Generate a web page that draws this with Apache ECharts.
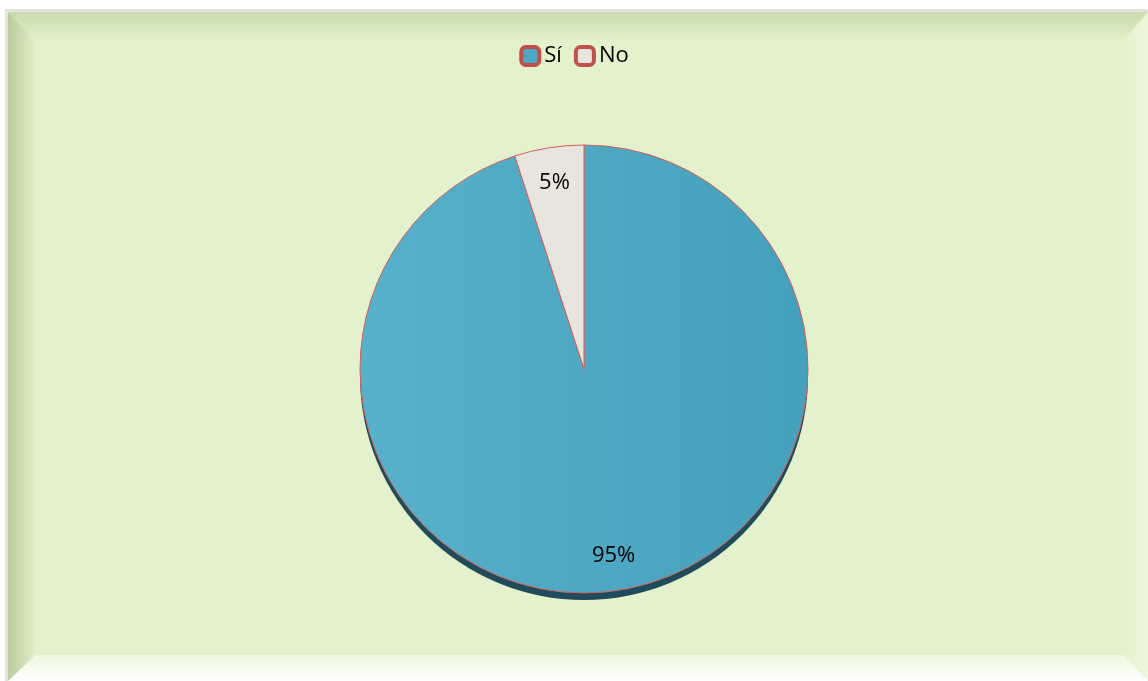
<!DOCTYPE html>
<html>
<head>
<meta charset="utf-8">
<script src="https://cdn.jsdelivr.net/npm/echarts@6/dist/echarts.min.js"></script>
<style>
html,body{margin:0;padding:0;background:#ffffff;}
#c{width:1148px;height:681px;}
</style>
</head>
<body>
<div id="c"></div>
<script>
const categories = ['Sí', 'No'];
const values = [95, 5];
const colors = ['#4DA7C2', '#E8E5DE'];

const chart = echarts.init(document.getElementById('c'));
const total = values.reduce((a, b) => a + b, 0);
const data = categories.map((n, i) => ({
  name: n,
  value: values[i],
  itemStyle: i === 0 ? {
    color: new echarts.graphic.LinearGradient(0, 0, 1, 0, [
      {offset: 0, color: '#58B1CA'},
      {offset: 1, color: '#45A0BC'}
    ])
  } : {color: colors[i]}
}));
const labelData = categories.map((n, i) => ({name: n, value: values[i]}));

const W = 1148, H = 681, L = 8, T = 12, B = 24;
const CX = 584, CY = 369, R = 224;
chart.setOption({
  animation: false,
  color: colors,
  graphic: [
    {type: 'rect', z: -10, silent: true, shape: {x: 5, y: 9, width: W, height: H}, style: {fill: '#E4E4DE'}},
    {type: 'rect', z: -9, silent: true, shape: {x: L, y: T, width: W - L, height: H - T}, style: {fill: '#E3F2CC'}},
    {type: 'polygon', z: -8, silent: true, shape: {points: [[L, T], [W, T], [W - B, T + B + 4], [L + B + 4, T + B + 4]]},
      style: {fill: new echarts.graphic.LinearGradient(0, 0, 0, 1, [{offset: 0, color: '#C8DBAE'}, {offset: 1, color: '#E0F0C8'}])}},
    {type: 'polygon', z: -8, silent: true, shape: {points: [[L, T], [L + B + 4, T + B + 4], [L + B + 4, H - B - 2], [L, H]]},
      style: {fill: new echarts.graphic.LinearGradient(0, 0, 1, 0, [{offset: 0, color: '#B9CC9F'}, {offset: 1, color: '#E1F0C9'}])}},
    {type: 'polygon', z: -8, silent: true, shape: {points: [[L, H], [L + B + 4, H - B - 2], [W - B, H - B - 2], [W, H]]},
      style: {fill: new echarts.graphic.LinearGradient(0, 0, 0, 1, [{offset: 0, color: '#EEF8DE'}, {offset: 1, color: '#FFFFFF'}])}},
    {type: 'polygon', z: -8, silent: true, shape: {points: [[W, T], [W - B, T + B + 4], [W - B, H - B - 2], [W, H]]},
      style: {fill: new echarts.graphic.LinearGradient(0, 0, 1, 0, [{offset: 0, color: '#E3F2CC'}, {offset: 1, color: '#EDF7DC'}])}}
  ],
  legend: {
    top: 40,
    left: 'center',
    itemWidth: 18,
    itemHeight: 18,
    itemGap: 12,
    icon: 'roundRect',
    textStyle: {fontFamily: 'Open Sans', fontSize: 22, color: '#000'},
    data: categories.map((n, i) => ({
      name: n,
      itemStyle: {color: colors[i], borderColor: '#C0504D', borderWidth: 4}
    }))
  },
  series: [
    {
      type: 'pie',
      center: [CX, CY + 7],
      radius: R,
      silent: true,
      legendHoverLink: false,
      label: {show: false},
      labelLine: {show: false},
      itemStyle: {color: '#1F4B5A', borderWidth: 0},
      emphasis: {disabled: true},
      data: [{name: '_shadow', value: total}]
    },
    {
      type: 'pie',
      center: [CX, CY],
      radius: R,
      startAngle: 90,
      clockwise: true,
      label: {show: false},
      labelLine: {show: false},
      itemStyle: {borderColor: '#D0605C', borderWidth: 1},
      emphasis: {disabled: true},
      data: data
    },
    {
      type: 'pie',
      center: [CX, CY],
      radius: [148, R],
      startAngle: 90,
      clockwise: true,
      silent: true,
      legendHoverLink: false,
      itemStyle: {color: 'rgba(0,0,0,0)', borderWidth: 0},
      label: {
        show: true,
        position: 'inside',
        formatter: p => Math.round(p.percent) + '%',
        fontFamily: 'Open Sans',
        fontSize: 22,
        color: '#000'
      },
      labelLine: {show: false},
      emphasis: {disabled: true},
      data: labelData
    }
  ]
});
</script>
</body>
</html>
